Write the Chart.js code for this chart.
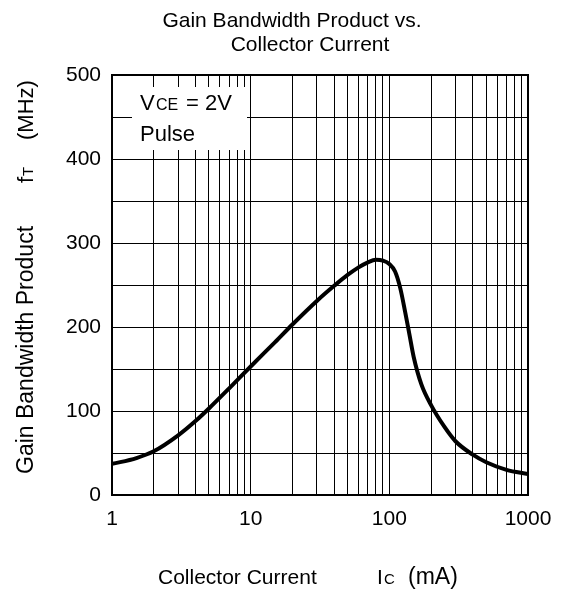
<!DOCTYPE html>
<html>
<head>
<meta charset="utf-8">
<script src="https://cdn.jsdelivr.net/npm/chart.js@4/dist/chart.umd.min.js"></script>
<style>
  html, body { margin: 0; padding: 0; background: #fff; }
  #wrap { width: 567px; height: 592px; position: relative; }
</style>
</head>
<body>
<div id="wrap"><canvas id="chart"></canvas></div>
<script>
// --- data ---
const currentMA = [1, 1.5, 2, 3, 4, 5, 7, 10, 15, 20, 30, 40, 50, 60, 70, 80, 90, 100, 110, 120, 130, 140, 150, 170, 200, 250, 300, 400, 500, 700, 1000];
const gainBwMHz = [37, 44, 52, 71, 88, 103, 127, 153, 182, 203, 231, 249, 262, 271, 277, 280, 279, 275, 266, 246, 218, 190, 164, 132, 107, 81, 64, 48, 39, 30, 25];
const xTicks = [1, 2, 3, 4, 5, 6, 7, 8, 9, 10, 20, 30, 40, 50, 60, 70, 80, 90, 100, 200, 300, 400, 500, 600, 700, 800, 900, 1000];
const xLabels = [1, 10, 100, 1000];
const yLabels = [0, 100, 200, 300, 400, 500];

const FONT = 'Liberation Sans, Arial, Helvetica, sans-serif';

// text, conditions box and frame drawn around the grid
const annotations = {
  id: 'annotations',
  beforeDatasetsDraw(chart) {
    const c = chart.ctx;
    const a = chart.chartArea;
    c.save();
    // white box over the grid
    c.fillStyle = '#fff';
    c.fillRect(a.left + 20, a.top + 12, 115, 63);
    c.fillStyle = '#000';
    c.textBaseline = 'alphabetic';
    c.textAlign = 'left';
    c.font = '22px ' + FONT;
    c.fillText('V', a.left + 28, a.top + 35);
    c.font = '16px ' + FONT;
    c.fillText('CE', a.left + 44, a.top + 35);
    c.font = '22px ' + FONT;
    c.fillText('= 2V', a.left + 74, a.top + 35);
    c.fillText('Pulse', a.left + 28, a.top + 66);
    c.restore();
  },
  afterDraw(chart) {
    const c = chart.ctx;
    const a = chart.chartArea;
    c.save();
    c.strokeStyle = '#000';
    c.lineWidth = 2;
    c.strokeRect(a.left, a.top, a.right - a.left, a.bottom - a.top);

    c.fillStyle = '#000';
    c.textBaseline = 'alphabetic';
    // title, two lines
    c.font = '21px ' + FONT;
    c.textAlign = 'center';
    c.fillText('Gain Bandwidth Product vs.', 292, 27);
    c.fillText('Collector Current', 310, 51);

    // x axis title
    c.textAlign = 'left';
    c.fillText('Collector Current', 158, 584);
    c.fillText('I', 377, 584);
    c.font = '15px ' + FONT;
    c.fillText('C', 384, 584);
    c.font = '23px ' + FONT;
    c.fillText('(mA)', 408, 584);

    // y axis title
    c.translate(33, 474);
    c.rotate(-Math.PI / 2);
    c.font = '23px ' + FONT;
    c.fillText('Gain Bandwidth Product', 0, 0);
    c.font = '22px ' + FONT;
    c.fillText('f', 291, 0);
    c.font = '15px ' + FONT;
    c.fillText('T', 298, 0);
    c.font = '22px ' + FONT;
    c.fillText('(MHz)', 334, 0);
    c.restore();
  }
};

new Chart(document.getElementById('chart'), {
  type: 'line',
  data: {
    datasets: [{
      data: currentMA.map((x, i) => ({ x, y: gainBwMHz[i] })),
      borderColor: '#000',
      borderWidth: 4,
      pointRadius: 0,
      cubicInterpolationMode: 'monotone',
      fill: false
    }]
  },
  options: {
    responsive: true,
    maintainAspectRatio: false,
    animation: false,
    devicePixelRatio: 1,
    layout: { padding: { left: 0, right: 39, top: 75, bottom: 57 } },
    plugins: {
      legend: { display: false },
      title: { display: false },
      tooltip: { enabled: false }
    },
    scales: {
      x: {
        type: 'logarithmic',
        min: 1,
        max: 1000,
        afterBuildTicks: s => { s.ticks = xTicks.map(v => ({ value: v })); },
        afterFit: s => { s.height = 40; },
        grid: { color: '#000', lineWidth: 1, drawTicks: false },
        border: { display: false },
        ticks: {
          autoSkip: false,
          maxRotation: 0,
          padding: 12,
          color: '#000',
          font: { family: FONT, size: 21 },
          callback: v => xLabels.includes(v) ? String(v) : ''
        }
      },
      y: {
        min: 0,
        max: 500,
        afterFit: s => { s.width = 112; },
        grid: { color: '#000', lineWidth: 1, drawTicks: false },
        border: { display: false },
        ticks: {
          stepSize: 50,
          padding: 11,
          color: '#000',
          font: { family: FONT, size: 21 },
          callback: v => yLabels.includes(v) ? String(v) : ''
        }
      }
    }
  },
  plugins: [annotations]
});
</script>
</body>
</html>
